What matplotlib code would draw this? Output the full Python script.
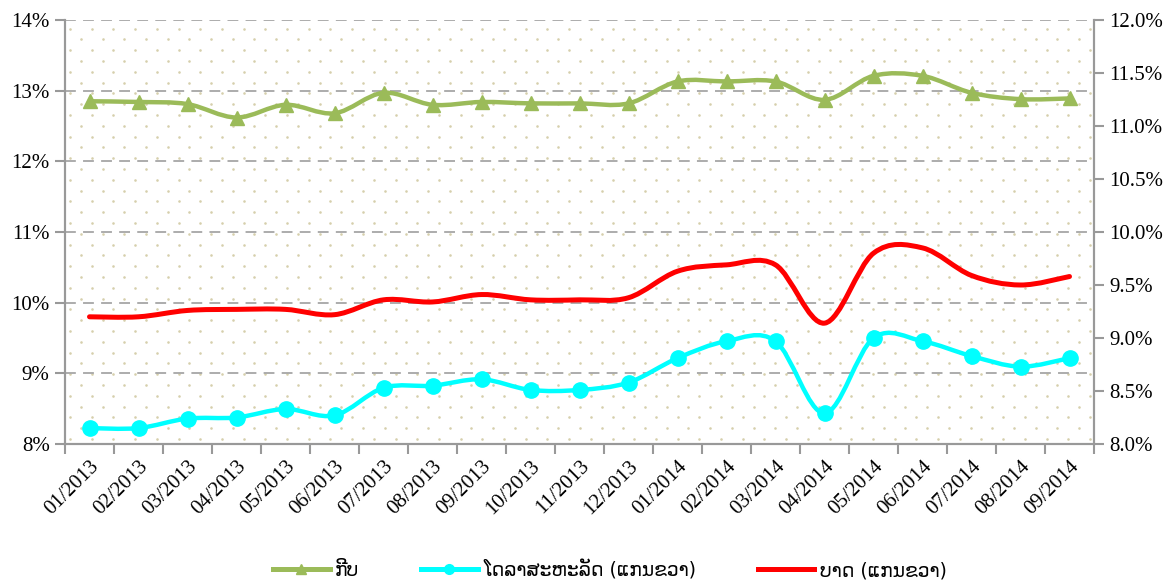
import numpy as np
import matplotlib
matplotlib.use("Agg")
import matplotlib.pyplot as plt
from matplotlib.path import Path
from matplotlib.patches import PathPatch
from matplotlib.lines import Line2D

months = ["01/2013", "02/2013", "03/2013", "04/2013", "05/2013", "06/2013",
          "07/2013", "08/2013", "09/2013", "10/2013", "11/2013", "12/2013",
          "01/2014", "02/2014", "03/2014", "04/2014", "05/2014", "06/2014",
          "07/2014", "08/2014", "09/2014"]

# left axis
kip = [12.85, 12.84, 12.81, 12.62, 12.80, 12.68, 12.97, 12.80, 12.84, 12.82, 12.82,
       12.82, 13.13, 13.13, 13.13, 12.87, 13.21, 13.21, 12.97, 12.88, 12.89]
# right axis
usd = [8.15, 8.15, 8.24, 8.25, 8.33, 8.27, 8.53, 8.55, 8.61, 8.51, 8.51,
       8.58, 8.81, 8.97, 8.97, 8.29, 9.00, 8.97, 8.83, 8.73, 8.81]
thb = [9.20, 9.20, 9.26, 9.27, 9.27, 9.22, 9.36, 9.34, 9.41, 9.36, 9.36,
       9.38, 9.63, 9.69, 9.69, 9.14, 9.80, 9.85, 9.59, 9.50, 9.58]

labels = ["ກີບ", "ໂດລາສະຫະລັດ (ແກນຂວາ)", "ບາດ (ແກນຂວາ)"]
colors = ["#9BBB59", "#00FFFF", "#FF0000"]

serif = "Liberation Serif"
lao = ["DejaVu Sans", "Noto Sans"]


def smooth_path(x, y):
    # excel-like smoothing: catmull-rom turned into cubic bezier segments
    pts = np.column_stack([x, y]).astype(float)
    n = len(pts)
    verts = [pts[0]]
    codes = [Path.MOVETO]
    for i in range(n - 1):
        p0 = pts[i - 1] if i > 0 else pts[i]
        p1 = pts[i]
        p2 = pts[i + 1]
        p3 = pts[i + 2] if i + 2 < n else pts[i + 1]
        verts += [p1 + (p2 - p0) / 6, p2 - (p3 - p1) / 6, p2]
        codes += [Path.CURVE4] * 3
    return Path(verts, codes)


fig = plt.figure(figsize=(11.76, 5.81), dpi=100)
ax = fig.add_axes([65 / 1176, 1 - 444 / 581, 1029 / 1176, 424 / 581])
ax2 = ax.twinx()

x = np.arange(len(months))

# dotted background
W, H = 1029, 424
dx, dy = 21.7, 10.8
px, py = [], []
for r, yy in enumerate(np.arange(5, H, dy)):
    off = 0 if r % 2 == 0 else dx / 2
    for xx in np.arange(5 + off, W, dx):
        px.append(xx / W)
        py.append(yy / H)
ax.scatter(px, py, s=3.5, color="#d6cfac", transform=ax.transAxes, zorder=0,
           linewidths=0)

ax.set_xlim(-0.5, len(months) - 0.5)
ax.set_ylim(8, 14)
ax2.set_ylim(8, 12)

for v in range(9, 15):
    ax.axhline(v, color="#a6a6a6", lw=1.3, dashes=(6, 4), zorder=1)

ax.add_patch(PathPatch(smooth_path(x, kip), fill=False, ec=colors[0], lw=3.2,
                       zorder=3, capstyle="round", joinstyle="round"))
ax.plot(x, kip, ls="none", marker="^", ms=10.5, color=colors[0], zorder=4)

ax2.add_patch(PathPatch(smooth_path(x, thb), fill=False, ec=colors[2], lw=3.6,
                        zorder=3, capstyle="round", joinstyle="round"))
ax2.add_patch(PathPatch(smooth_path(x, usd), fill=False, ec=colors[1], lw=3.2,
                        zorder=3, capstyle="round", joinstyle="round"))
ax2.plot(x, usd, ls="none", marker="o", ms=11, color=colors[1], zorder=4)

# axes styling
for a in (ax, ax2):
    a.spines["top"].set_visible(False)
    for s in ("left", "right", "bottom"):
        a.spines[s].set_color("#999999")
        a.spines[s].set_linewidth(1.5)

ax.set_xticks(x)
ax.set_xticklabels(months, rotation=45, ha="right", rotation_mode="anchor",
                   fontsize=15, family=serif)
ax.set_xticks(np.arange(-0.5, len(months)), minor=True)
ax.tick_params(axis="x", which="major", length=0, pad=9)
ax.tick_params(axis="x", which="minor", length=7, width=1.5, color="#999999")

ax.set_yticks(range(8, 15))
ax.set_yticklabels([f"{v}%" for v in range(8, 15)], fontsize=15, family=serif)
ax.tick_params(axis="y", length=7, width=1.5, color="#999999", pad=4)

rt = np.arange(8, 12.01, 0.5)
ax2.set_yticks(rt)
ax2.set_yticklabels([f"{v:.1f}%" for v in rt], fontsize=15, family=serif)
ax2.tick_params(axis="y", length=7, width=1.5, color="#999999", pad=4)

handles = [
    Line2D([], [], color=colors[0], lw=3.6, marker="^", ms=7),
    Line2D([], [], color=colors[1], lw=3.6, marker="o", ms=7),
    Line2D([], [], color=colors[2], lw=3.6),
]
fig.legend(handles, labels, loc="center", bbox_to_anchor=(610 / 1176, 11 / 581),
           ncol=3, frameon=False, handlelength=3.0, handletextpad=0.3,
           columnspacing=3.3, prop={"family": lao, "size": 13.5})

fig.savefig("out.png", dpi=100)
